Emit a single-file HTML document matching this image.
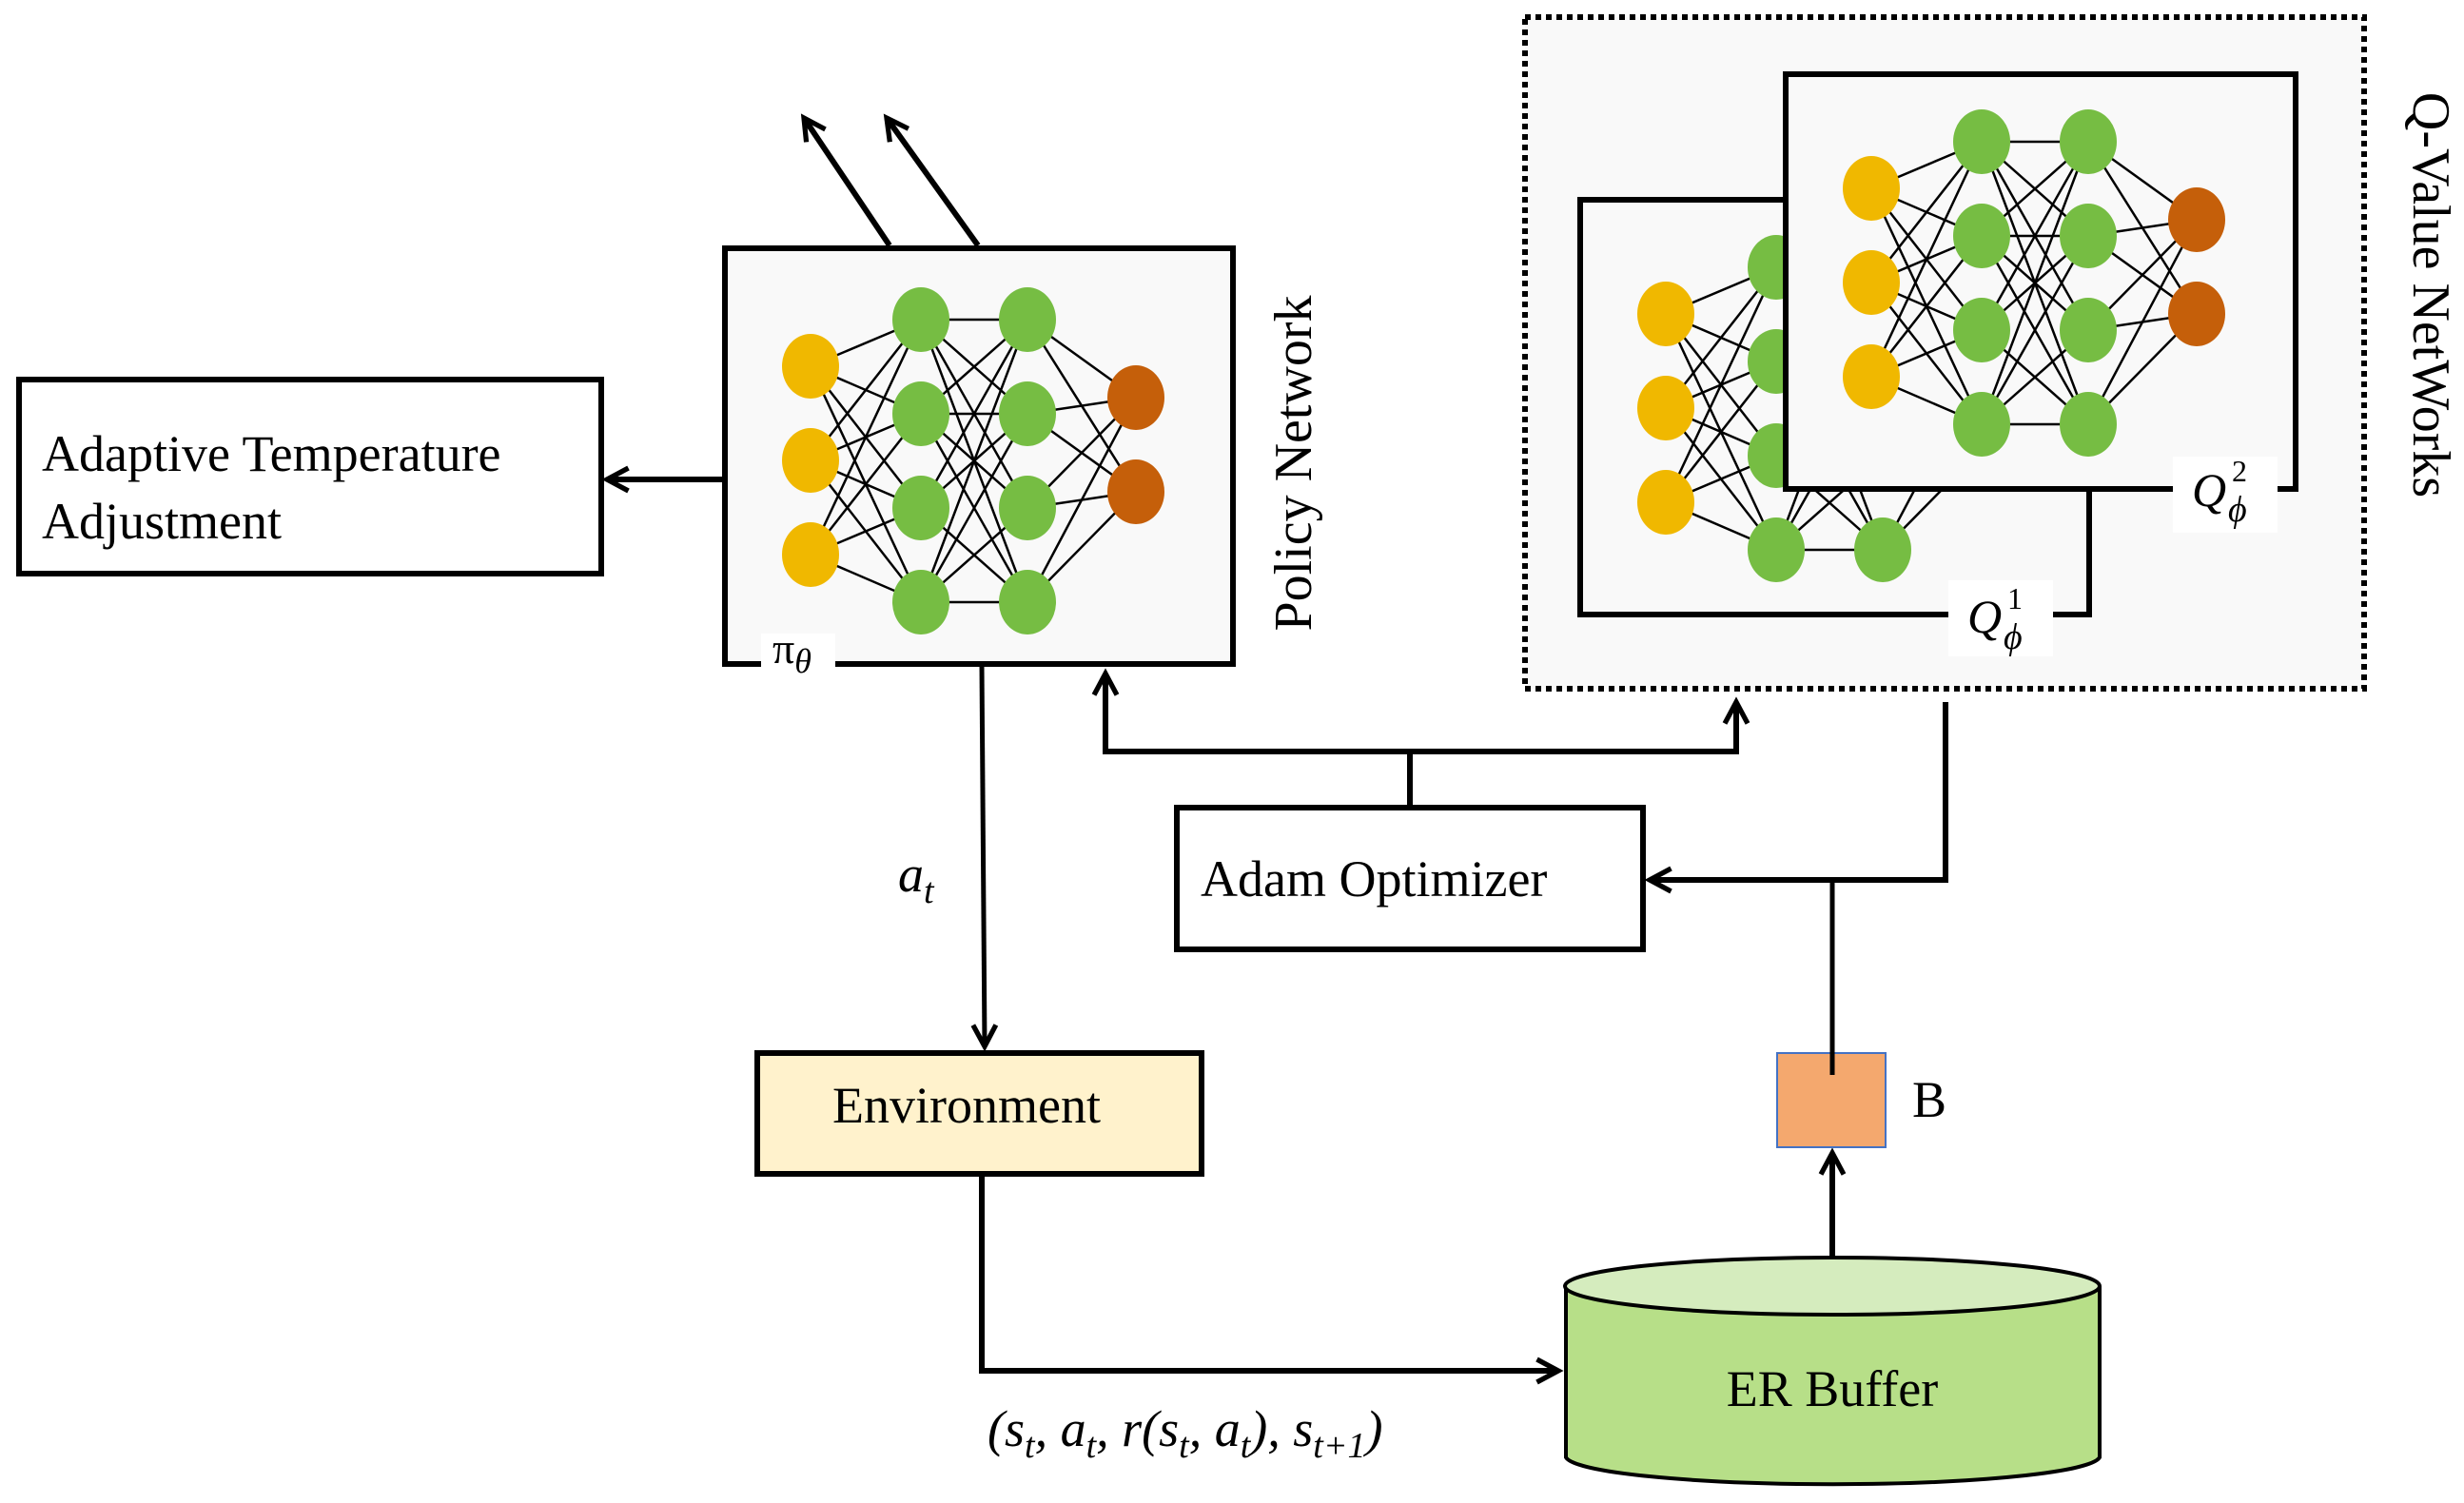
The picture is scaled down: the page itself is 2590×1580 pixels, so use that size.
<!DOCTYPE html>
<html><head><meta charset="utf-8"><style>
html,body{margin:0;padding:0;background:#fff}
svg{display:block}
text{font-family:"Liberation Serif","DejaVu Serif","Times New Roman",serif;fill:#000}
</style></head><body>
<svg width="2590" height="1580" viewBox="0 0 2590 1580" xmlns="http://www.w3.org/2000/svg" font-family="Liberation Serif, DejaVu Serif, serif">
<defs>
<marker id="ah" viewBox="0 0 20 20" refX="17" refY="10" markerWidth="30" markerHeight="30" markerUnits="userSpaceOnUse" orient="auto" overflow="visible">
<path d="M2,2 L17,10 L2,18" fill="none" stroke="#000" stroke-width="3.5"/>
</marker>
<g id="net">
<g stroke="#000" stroke-width="2.5">
<path d="M0,0L116,-49M0,0L116,50M0,0L116,149M0,0L116,248
M0,99L116,-49M0,99L116,50M0,99L116,149M0,99L116,248
M0,198L116,-49M0,198L116,50M0,198L116,149M0,198L116,248"/>
<path d="M116,-49L228,-49M116,-49L228,50M116,-49L228,149M116,-49L228,248
M116,50L228,-49M116,50L228,50M116,50L228,149M116,50L228,248
M116,149L228,-49M116,149L228,50M116,149L228,248
M116,248L228,-49M116,248L228,50M116,248L228,149M116,248L228,248"/>
<path d="M228,-49L342,33M228,50L342,33M228,50L342,132M228,149L342,33M228,149L342,132M228,248L342,132M228,-49L342,132M228,248L342,33"/>
</g>
<g fill="#f0b800">
<ellipse cx="0" cy="0" rx="30" ry="34"/><ellipse cx="0" cy="99" rx="30" ry="34"/><ellipse cx="0" cy="198" rx="30" ry="34"/>
</g>
<g fill="#76bd43">
<ellipse cx="116" cy="-49" rx="30" ry="34"/><ellipse cx="116" cy="50" rx="30" ry="34"/><ellipse cx="116" cy="149" rx="30" ry="34"/><ellipse cx="116" cy="248" rx="30" ry="34"/>
<ellipse cx="228" cy="-49" rx="30" ry="34"/><ellipse cx="228" cy="50" rx="30" ry="34"/><ellipse cx="228" cy="149" rx="30" ry="34"/><ellipse cx="228" cy="248" rx="30" ry="34"/>
</g>
<g fill="#c55f0a">
<ellipse cx="342" cy="33" rx="30" ry="34"/><ellipse cx="342" cy="132" rx="30" ry="34"/>
</g>
</g>
</defs>

<rect x="20" y="399" width="612" height="204" fill="#fff" stroke="#000" stroke-width="6"/>
<text x="44" y="495" font-size="54">Adaptive Temperature</text>
<text x="44" y="566" font-size="54">Adjustment</text>
<line x1="762" y1="504" x2="638" y2="504" stroke="#000" stroke-width="6" marker-end="url(#ah)"/>

<rect x="762" y="261" width="534" height="437" fill="#f9f9f9" stroke="#000" stroke-width="6"/>
<use href="#net" x="852" y="385"/>
<rect x="800" y="666" width="78" height="36" fill="#fff"/>
<text x="812" y="697" font-size="46">π<tspan font-style="italic" font-size="36" dy="10">θ</tspan></text>
<text transform="translate(1378,487) rotate(-90)" text-anchor="middle" font-size="56">Policy Network</text>
<line x1="935" y1="258" x2="845" y2="124" stroke="#000" stroke-width="6" marker-end="url(#ah)"/>
<line x1="1028" y1="258" x2="932" y2="124" stroke="#000" stroke-width="6" marker-end="url(#ah)"/>

<rect x="1603" y="18" width="882" height="706" fill="#f9f9f9" stroke="#000" stroke-width="6" stroke-dasharray="6,5"/>
<rect x="1661" y="210" width="535" height="436" fill="#f9f9f9" stroke="#000" stroke-width="6"/>
<use href="#net" x="1751" y="330"/>
<rect x="1877" y="78" width="536" height="436" fill="#f9f9f9" stroke="#000" stroke-width="6"/>
<use href="#net" x="1967" y="198"/>
<rect x="2048" y="610" width="110" height="80" fill="#fff"/>
<text x="2068" y="665" font-size="50" font-style="italic">Q</text>
<text x="2110" y="640" font-size="32">1</text>
<text x="2106" y="682" font-size="38" font-style="italic">ϕ</text>
<rect x="2284" y="480" width="110" height="80" fill="#fff"/>
<text x="2304" y="532" font-size="50" font-style="italic">Q</text>
<text x="2346" y="506" font-size="32">2</text>
<text x="2342" y="548" font-size="38" font-style="italic">ϕ</text>
<text transform="translate(2537,310) rotate(90)" text-anchor="middle" font-size="56">Q-Value NetWorks</text>

<rect x="1237" y="849" width="490" height="149" fill="#fff" stroke="#000" stroke-width="6"/>
<text x="1262" y="942" font-size="54">Adam Optimizer</text>
<line x1="1482" y1="849" x2="1482" y2="790" stroke="#000" stroke-width="6"/>
<polyline points="1162,790 1825,790" fill="none" stroke="#000" stroke-width="6"/>
<line x1="1162" y1="793" x2="1162" y2="708" stroke="#000" stroke-width="6" marker-end="url(#ah)"/>
<line x1="1825" y1="793" x2="1825" y2="738" stroke="#000" stroke-width="6" marker-end="url(#ah)"/>
<polyline points="2045,738 2045,925 1734,925" fill="none" stroke="#000" stroke-width="6" marker-end="url(#ah)"/>
<line x1="1926" y1="925" x2="1926" y2="1108" stroke="#000" stroke-width="5"/>

<line x1="1032" y1="700" x2="1035" y2="1100" stroke="#000" stroke-width="5" marker-end="url(#ah)"/>
<text x="944" y="937" font-size="54" font-style="italic">a<tspan font-size="38" dy="12">t</tspan></text>

<rect x="796" y="1107" width="467" height="127" fill="#fff2cc" stroke="#000" stroke-width="6"/>
<text x="1016" y="1180" text-anchor="middle" font-size="54">Environment</text>
<polyline points="1032,1234 1032,1441 1638,1441" fill="none" stroke="#000" stroke-width="6" marker-end="url(#ah)"/>
<text x="1038" y="1520" font-size="54" font-style="italic">(s<tspan font-size="38" dy="12">t</tspan><tspan dy="-12">, a</tspan><tspan font-size="38" dy="12">t</tspan><tspan dy="-12">, r(s</tspan><tspan font-size="38" dy="12">t</tspan><tspan dy="-12">, a</tspan><tspan font-size="38" dy="12">t</tspan><tspan dy="-12">), s</tspan><tspan font-size="38" dy="12">t+1</tspan><tspan dy="-12">)</tspan></text>

<path d="M1646,1352 L1646,1532 A281,30 0 0 0 2207,1532 L2207,1352" fill="#b7df88" stroke="#000" stroke-width="4"/>
<ellipse cx="1926" cy="1352" rx="281" ry="30" fill="#d5ecbe" stroke="#000" stroke-width="4"/>
<text x="1926" y="1478" text-anchor="middle" font-size="54">ER Buffer</text>

<line x1="1926" y1="1320" x2="1926" y2="1212" stroke="#000" stroke-width="6" marker-end="url(#ah)"/>
<rect x="1868" y="1107" width="114" height="99" fill="#f4a86e" stroke="#4472c4" stroke-width="2"/>
<line x1="1926" y1="1105" x2="1926" y2="1130" stroke="#000" stroke-width="5"/>
<text x="2010" y="1174" font-size="54">B</text>
</svg>
</body></html>
